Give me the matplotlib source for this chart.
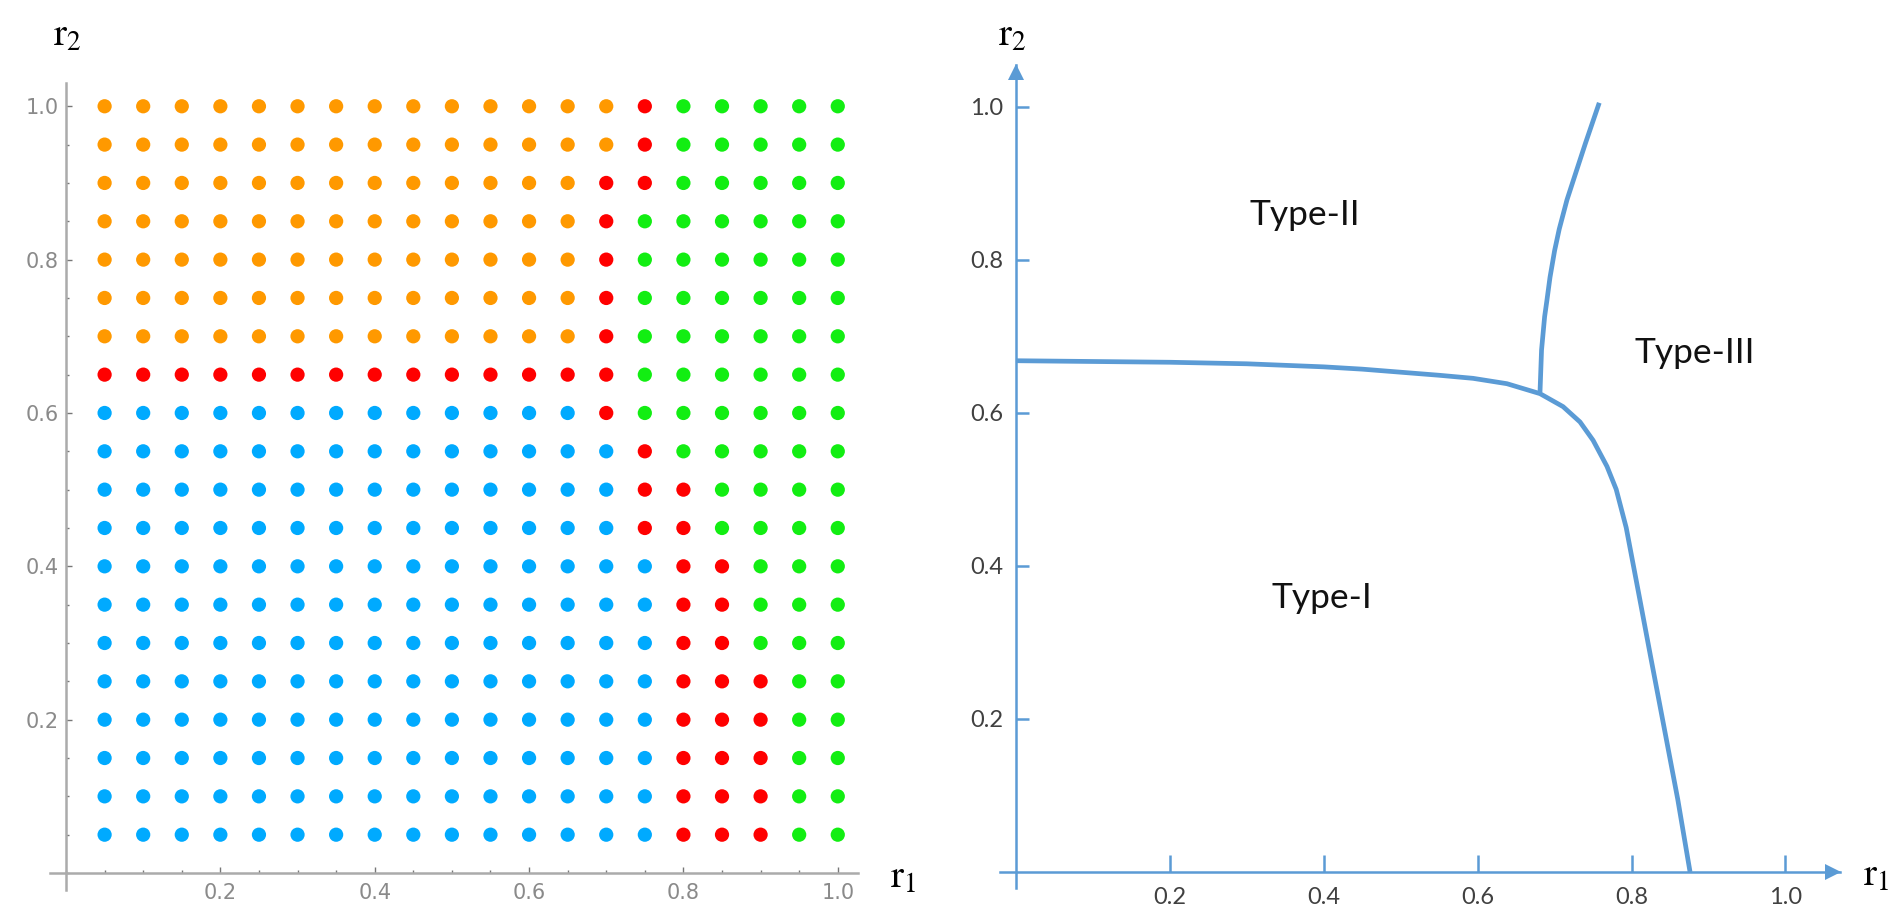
import matplotlib

matplotlib.use("Agg")
import matplotlib.pyplot as plt
import numpy as np
from matplotlib.ticker import FixedLocator, MultipleLocator

# grid classification, one string per r2 row (top row r2=1.0 first)
# O = Type-II (orange), R = boundary (red), B = Type-I (blue), G = Type-III (green)
r1_values = [0.05 * i for i in range(1, 21)]
r2_values = [1.0 - 0.05 * j for j in range(20)]
grid_rows = [
    "OOOOOOOOOOOOOORGGGGG",
    "OOOOOOOOOOOOOORGGGGG",
    "OOOOOOOOOOOOORRGGGGG",
    "OOOOOOOOOOOOORGGGGGG",
    "OOOOOOOOOOOOORGGGGGG",
    "OOOOOOOOOOOOORGGGGGG",
    "OOOOOOOOOOOOORGGGGGG",
    "RRRRRRRRRRRRRRGGGGGG",
    "BBBBBBBBBBBBBRGGGGGG",
    "BBBBBBBBBBBBBBRGGGGG",
    "BBBBBBBBBBBBBBRRGGGG",
    "BBBBBBBBBBBBBBRRGGGG",
    "BBBBBBBBBBBBBBBRRGGG",
    "BBBBBBBBBBBBBBBRRGGG",
    "BBBBBBBBBBBBBBBRRGGG",
    "BBBBBBBBBBBBBBBRRRGG",
    "BBBBBBBBBBBBBBBRRRGG",
    "BBBBBBBBBBBBBBBRRRGG",
    "BBBBBBBBBBBBBBBRRRGG",
    "BBBBBBBBBBBBBBBRRRGG",
]
point_colors = {"O": "#ff9900", "R": "#ff0000", "B": "#00aaff", "G": "#12ee12"}

# phase boundaries
boundary_a_r1 = [0.0, 0.1, 0.2, 0.3, 0.4, 0.45, 0.5, 0.55, 0.594, 0.638, 0.681, 0.711,
                 0.733, 0.750, 0.768, 0.780, 0.793, 0.810, 0.825, 0.843, 0.860, 0.876]
boundary_a_r2 = [0.668, 0.667, 0.666, 0.664, 0.660, 0.657, 0.653, 0.649, 0.645, 0.638, 0.625,
                 0.608, 0.588, 0.564, 0.530, 0.500, 0.450, 0.360, 0.280, 0.185, 0.095, 0.0]
boundary_b_r1 = [0.681, 0.683, 0.687, 0.690, 0.694, 0.700, 0.706, 0.716, 0.727, 0.740, 0.758]
boundary_b_r2 = [0.627, 0.682, 0.7255, 0.747, 0.777, 0.812, 0.840, 0.878, 0.912, 0.952, 1.005]

region_names = ["Type-I", "Type-II", "Type-III"]
region_r1 = [0.398, 0.376, 0.882]
region_r2 = [0.358, 0.858, 0.678]

ticks = [0.2, 0.4, 0.6, 0.8, 1.0]
tick_labels = ["0.2", "0.4", "0.6", "0.8", "1.0"]

plt.rcParams["mathtext.fontset"] = "stix"

fig = plt.figure(figsize=(18.91, 9.05), dpi=100)

# ---- left panel: sampled grid ----
ax1 = fig.add_axes([0.02634, 0.01669, 0.4273, 0.8913])
gray = "#ababab"
xs, ys, cs = [], [], []
for row, r2 in zip(grid_rows, r2_values):
    for ch, r1 in zip(row, r1_values):
        xs.append(r1)
        ys.append(r2)
        cs.append(point_colors[ch])
ax1.scatter(xs, ys, s=105, c=cs, linewidths=0, zorder=3)
ax1.set_xlim(-0.021, 1.026)
ax1.set_ylim(-0.022, 1.03)
for side in ["top", "right"]:
    ax1.spines[side].set_visible(False)
for side in ["left", "bottom"]:
    ax1.spines[side].set_position(("data", 0))
    ax1.spines[side].set_color(gray)
    ax1.spines[side].set_linewidth(1.8)
for axis in [ax1.xaxis, ax1.yaxis]:
    axis.set_major_locator(FixedLocator(ticks))
    axis.set_minor_locator(MultipleLocator(0.05))
ax1.set_xticklabels(tick_labels)
ax1.set_yticklabels(tick_labels)
ax1.tick_params(which="major", direction="in", length=4.5, width=1, color="#777777",
                labelsize=15, labelcolor="#8a8a8a")
ax1.tick_params(which="minor", direction="in", length=2.5, width=1, color="#777777")
ax1.tick_params(axis="y", which="major", pad=5)
ax1.tick_params(axis="x", which="major", pad=7)
for lab in ax1.get_xticklabels() + ax1.get_yticklabels():
    lab.set_family(["Liberation Sans Narrow", "DejaVu Sans"])
fig.text(53 / 1891, 1 - 35 / 905, r"$\mathrm{r}_2$", fontsize=28, ha="left", va="center")
fig.text(890 / 1891, 1 - 877 / 905, r"$\mathrm{r}_1$", fontsize=28, ha="left", va="center")

# ---- right panel: phase diagram ----
ax2 = fig.add_axes([0.5287, 0.01867, 0.4444, 0.9092])
blue = "#5b9bd5"
ax2.plot(boundary_a_r1, boundary_a_r2, color=blue, lw=3.4, solid_capstyle="butt",
         solid_joinstyle="round")
ax2.plot(boundary_b_r1, boundary_b_r2, color=blue, lw=3.4, solid_capstyle="butt",
         solid_joinstyle="round")
for name, x, y in zip(region_names, region_r1, region_r2):
    ax2.text(x, y, name, fontsize=25.5, family="Lato", ha="center", va="center", color="#111111")
ax2.set_xlim(-0.021, 1.071)
ax2.set_ylim(-0.021, 1.054)
for side in ["top", "right"]:
    ax2.spines[side].set_visible(False)
for side in ["left", "bottom"]:
    ax2.spines[side].set_position(("data", 0))
    ax2.spines[side].set_color(blue)
    ax2.spines[side].set_linewidth(1.8)
ax2.plot(1.062, 0, ">", color=blue, markersize=11, clip_on=False, markeredgewidth=0)
ax2.plot(0, 1.045, "^", color=blue, markersize=11, clip_on=False, markeredgewidth=0)
ax2.xaxis.set_major_locator(FixedLocator(ticks))
ax2.yaxis.set_major_locator(FixedLocator(ticks))
ax2.set_xticklabels(tick_labels)
ax2.set_yticklabels(tick_labels)
ax2.tick_params(direction="in", width=1.8, color=blue, labelsize=17, labelcolor="#404040")
ax2.tick_params(axis="x", length=12, pad=11)
ax2.tick_params(axis="y", length=9, pad=9)
for lab in ax2.get_xticklabels() + ax2.get_yticklabels():
    lab.set_family("Lato")
fig.text(998 / 1891, 1 - 35 / 905, r"$\mathrm{r}_2$", fontsize=28, ha="left", va="center")
fig.text(1863 / 1891, 1 - 875 / 905, r"$\mathrm{r}_1$", fontsize=28, ha="left", va="center")

fig.savefig("out.png", dpi=100)
